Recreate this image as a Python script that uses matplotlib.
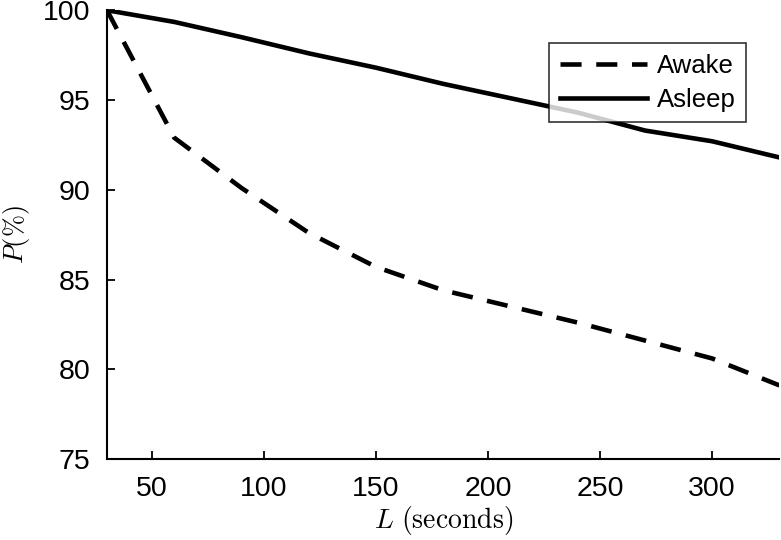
import matplotlib
matplotlib.use('Agg')
import matplotlib.pyplot as plt

plt.rcParams['font.family'] = ['Liberation Sans', 'DejaVu Sans']
plt.rcParams['mathtext.fontset'] = 'cm'

# data
L = [30, 60, 90, 120, 150, 180, 210, 240, 270, 300, 330]
awake = [100, 92.9, 90.1, 87.6, 85.7, 84.4, 83.5, 82.6, 81.6, 80.6, 79.1]
asleep = [100, 99.35, 98.5, 97.6, 96.8, 95.9, 95.1, 94.3, 93.3, 92.7, 91.8]

fig = plt.figure(figsize=(7.81, 5.4), dpi=100)
ax = fig.add_axes([0.137, 0.15, 0.861, 0.831])

ax.plot(L, awake, color='black', lw=3.3, linestyle=(0, (4.6, 3.2)), label='Awake')
ax.plot(L, asleep, color='black', lw=3.3, label='Asleep')

ax.set_xlim(30, 330)
ax.set_ylim(75, 100)
ax.set_xticks([50, 100, 150, 200, 250, 300])
ax.set_yticks([75, 80, 85, 90, 95, 100])
ax.tick_params(direction='in', length=6, width=1.3, labelsize=20.5, pad=12)
for s in ['top', 'right']:
    ax.spines[s].set_visible(False)
for s in ['left', 'bottom']:
    ax.spines[s].set_linewidth(1.5)

ax.set_xlabel(r'$L\ \mathrm{(seconds)}$', fontsize=20, labelpad=2)
ax.set_ylabel(r'$P(\%)$', fontsize=19, va='center')
ax.yaxis.set_label_coords(-0.134, 0.5)

leg = ax.legend(loc='upper right', bbox_to_anchor=(0.97, 0.955), fontsize=18.5,
                frameon=True, fancybox=False, edgecolor='black',
                handlelength=3.4, borderpad=0.4, labelspacing=0.4, handletextpad=0.4)
leg.get_frame().set_linewidth(1.2)

fig.savefig('out.png', dpi=100)
